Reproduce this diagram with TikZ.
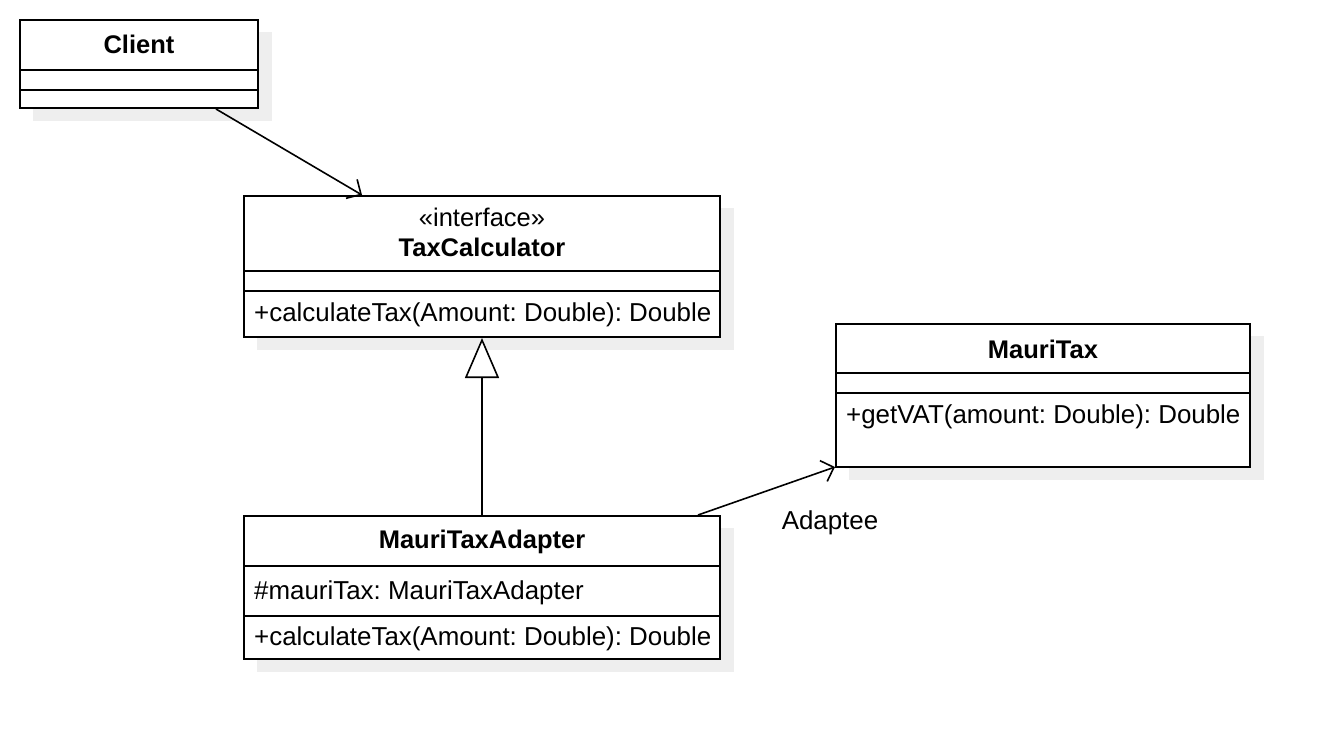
\documentclass[tikz,border=0pt]{standalone}
\usepackage{fontspec}
\setmainfont{Liberation Sans}
\frenchspacing
\usetikzlibrary{arrows.meta}
\definecolor{shadowgray}{HTML}{EEEEEE}
\tikzset{
  boxline/.style={draw=black, line width=2pt, fill=white},
  divider/.style={draw=black, line width=2pt},
  title/.style={font=\fontsize{25.5}{30}\selectfont\bfseries, anchor=center, inner sep=0pt},
  stereo/.style={font=\fontsize{25.5}{30}\selectfont, anchor=center, inner sep=0pt},
  member/.style={font=\fontsize{25.9}{30}\selectfont, anchor=west, inner sep=0pt},
  conn/.style={draw=black, line width=1.6pt},
  openarrow/.style={-{Straight Barb[length=11pt,width=22pt,line width=1.6pt]}},
  realize/.style={-{Triangle[open,length=40pt,width=34pt,line width=1.6pt,fill=white]}},
}
\begin{document}
\begin{tikzpicture}[x=1pt,y=-1pt]
\useasboundingbox[fill=white] (0,0) rectangle (1328,740);
% shadows
\fill[shadowgray] (33,32) rectangle (272,121);
\fill[shadowgray] (257,208) rectangle (734,350);
\fill[shadowgray] (849,336) rectangle (1264,480);
\fill[shadowgray] (257,528) rectangle (734,672);
% Client
\path[boxline] (20,20) rectangle (258,108);
\draw[divider] (20,70) -- (258,70);
\draw[divider] (20,90) -- (258,90);
\node[title] (clientT) at (139,44.5) {Client};
% TaxCalculator
\path[boxline] (244,196) rectangle (720,337);
\draw[divider] (244,271) -- (720,271);
\draw[divider] (244,291) -- (720,291);
\node[stereo] (tcS) at (482,217) {«interface»};
\node[title] (tcT) at (482,247.5) {TaxCalculator};
\node[member] (tcM) at (254,315) {+calculateTax(Amount: Double): Double};
% MauriTax
\path[boxline] (836,324) rectangle (1250,467);
\draw[divider] (836,373) -- (1250,373);
\draw[divider] (836,393) -- (1250,393);
\node[title] (mtT) at (1043,349.5) {MauriTax};
\node[member] (mtM) at (846,417) {+getVAT(amount: Double): Double};
% MauriTaxAdapter
\path[boxline] (244,516) rectangle (720,659);
\draw[divider] (244,566) -- (720,566);
\draw[divider] (244,616) -- (720,616);
\node[title] (mtaT) at (482,541.5) {MauriTaxAdapter};
\node[member] (mtaA) at (254,593) {\#mauriTax: MauriTaxAdapter};
\node[member] (mtaM) at (254,639) {+calculateTax(Amount: Double): Double};
% connector anchor points
\coordinate (c1) at (216,109);
\coordinate (t1) at (362,195);
\coordinate (a1) at (482,515);
\coordinate (t2) at (482,338);
\coordinate (a2) at (698,515);
\coordinate (m1) at (835,467);
\draw[conn,openarrow] (c1) -- (t1);
\draw[conn,realize] (a1) -- (t2);
\draw[conn,openarrow] (a2) -- (m1);
\node[font=\fontsize{25.9}{30}\selectfont, anchor=center, inner sep=0pt] (adLbl) at (830,523) {Adaptee};
\end{tikzpicture}
\end{document}
